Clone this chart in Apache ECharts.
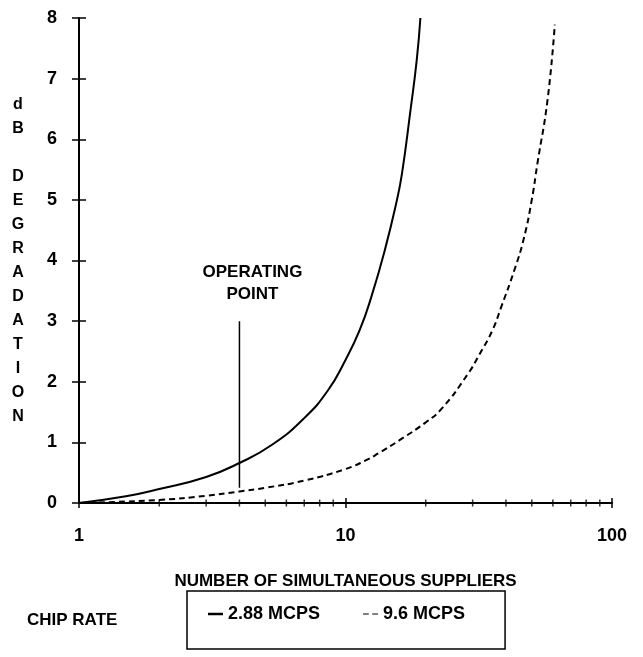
<!DOCTYPE html>
<html>
<head>
<meta charset="utf-8">
<script src="https://cdn.jsdelivr.net/npm/echarts@6/dist/echarts.min.js"></script>
<style>
html,body{margin:0;padding:0;background:#fff;}
#chart{width:643px;height:657px;}
</style>
</head>
<body>
<div id="chart"></div>
<script>
// ---- data ----
var solidName = '2.88 MCPS';
var dashName = '9.6 MCPS';
var solidX = [1, 1.5, 2, 3, 4, 5.3, 7, 8.6, 10, 11.3, 12.5, 14.1, 15.6, 16.3, 17.5, 18.5, 19.1];
var solidY = [0, 0.11, 0.23, 0.43, 0.66, 0.96, 1.4, 1.86, 2.36, 2.85, 3.4, 4.2, 5.0, 5.44, 6.45, 7.3, 8.0];
var dashX = [1, 2, 3, 4, 5, 7, 10, 12, 13.3, 16, 20, 23, 28.7, 32, 35.6, 38.3, 43, 46.6, 50, 52.5, 57.3, 61];
var dashY = [0, 0.05, 0.12, 0.19, 0.25, 0.37, 0.56, 0.71, 0.82, 1.04, 1.33, 1.56, 2.12, 2.47, 2.85, 3.22, 3.84, 4.35, 5.0, 5.6, 6.65, 7.89];
var operatingX = [4, 4];
var operatingY = [0.25, 3.0];
var operatingLabel = 'OPERATING\nPOINT';
var minorTickValues = [2, 3, 4, 5, 6, 7, 8, 9, 20, 30, 40, 50, 60, 70, 80, 90];
var yTicks = [0, 1, 2, 3, 4, 5, 6, 7, 8];
var xTickLabels = ['1', '10', '100'];

function pairs(xs, ys) { return xs.map(function (x, i) { return [x, ys[i]]; }); }

var FONT = "'Liberation Sans', 'DejaVu Sans', sans-serif";
var chart = echarts.init(document.getElementById('chart'), null, { renderer: 'canvas' });

var option = {
  backgroundColor: '#ffffff',
  animation: false,
  textStyle: { fontFamily: FONT, color: '#000', fontWeight: 'bold' },
  grid: { left: 79, right: 31, top: 18, bottom: 154, containLabel: false },
  xAxis: [{
    type: 'log', logBase: 10, min: 1, max: 100,
    name: 'NUMBER OF SIMULTANEOUS SUPPLIERS',
    nameLocation: 'middle', nameGap: 70,
    nameTextStyle: { fontFamily: FONT, fontSize: 17, fontWeight: 'bold', color: '#000' },
    axisLine: { show: true, lineStyle: { color: '#000', width: 2 } },
    axisTick: { show: true, inside: false, length: 5, lineStyle: { color: '#000', width: 1.5 } },
    axisLabel: { show: true, margin: 24, fontFamily: FONT, fontSize: 18, fontWeight: 'bold', color: '#000',
      formatter: function (v) { var s = String(Math.round(v)); return xTickLabels.indexOf(s) >= 0 ? s : ''; } },
    splitLine: { show: false }, minorTick: { show: false }
  }, {
    type: 'log', logBase: 10, min: 1, max: 100, position: 'bottom', offset: 0,
    axisLine: { show: false },
    axisTick: { show: true, inside: true, length: 5, lineStyle: { color: '#000', width: 1.5 } },
    axisLabel: { show: false }, splitLine: { show: false }
  }],
  yAxis: [{
    type: 'value', min: 0, max: 8, interval: 1,
    name: 'd\nB\n\nD\nE\nG\nR\nA\nD\nA\nT\nI\nO\nN',
    nameLocation: 'middle', nameGap: 61, nameRotate: 0,
    nameTextStyle: { fontFamily: FONT, fontSize: 16, fontWeight: 'bold', color: '#000', lineHeight: 24, align: 'center', verticalAlign: 'middle' },
    axisLine: { show: true, lineStyle: { color: '#000', width: 2 } },
    axisTick: { show: true, inside: false, length: 7, lineStyle: { color: '#000', width: 1.5 } },
    axisLabel: { show: true, margin: 22, fontFamily: FONT, fontSize: 18, fontWeight: 'bold', color: '#000',
      formatter: function (v) { return yTicks.indexOf(v) >= 0 ? String(v) : ''; } },
    splitLine: { show: false }
  }, {
    type: 'value', min: 0, max: 8, interval: 1, position: 'left', offset: 0,
    axisLine: { show: false },
    axisTick: { show: true, inside: true, length: 7, lineStyle: { color: '#000', width: 1.5 } },
    axisLabel: { show: false }, splitLine: { show: false }
  }],
  legend: {
    left: 187, top: 591,
    orient: 'horizontal',
    padding: [14, 40, 26, 21],
    itemGap: 43,
    itemWidth: 15, itemHeight: 2.5,
    borderColor: '#000', borderWidth: 1.5, borderRadius: 0,
    textStyle: { fontFamily: FONT, fontSize: 18, fontWeight: 'bold', color: '#000' },
    data: [
      { name: solidName, icon: 'rect' },
      { name: dashName, icon: 'path://M0,0h5v1h-5zM8,0h5v1h-5z' }
    ]
  },
  graphic: [{
    type: 'text', left: 27, top: 612,
    style: { text: 'CHIP RATE', font: 'bold 17px ' + FONT, fill: '#000' }
  }],
  series: [{
    name: solidName, type: 'line', xAxisIndex: 0, yAxisIndex: 0,
    data: pairs(solidX, solidY), smooth: 0.5,
    showSymbol: false, symbol: 'none',
    lineStyle: { color: '#000', width: 2 }, itemStyle: { color: '#000' }
  }, {
    name: dashName, type: 'line', xAxisIndex: 0, yAxisIndex: 0,
    data: pairs(dashX, dashY), smooth: 0.5,
    showSymbol: false, symbol: 'none',
    lineStyle: { color: '#000', width: 2, type: [6, 4] }, itemStyle: { color: '#000' }
  }, {
    name: 'operating', type: 'line', xAxisIndex: 0, yAxisIndex: 0,
    data: pairs(operatingX, operatingY),
    symbol: 'none', showSymbol: false,
    lineStyle: { color: '#000', width: 1.5 },
    silent: true
  }, {
    name: 'operatingLabel', type: 'scatter', xAxisIndex: 0, yAxisIndex: 0,
    data: [[operatingX[1], operatingY[1]]],
    symbol: 'circle', symbolSize: 0, itemStyle: { color: '#000', opacity: 1 },
    label: { show: true, position: 'top', distance: 16, offset: [13, 0],
      formatter: operatingLabel, fontFamily: FONT, fontSize: 17, fontWeight: 'bold', color: '#000', opacity: 1, lineHeight: 22, align: 'center' },
    emphasis: { disabled: true },
    silent: true
  }, {
    name: 'minorTicks', type: 'scatter', xAxisIndex: 0, yAxisIndex: 0,
    data: minorTickValues.map(function (v) { return [v, 0]; }),
    symbol: 'rect', symbolSize: [1.5, 7],
    itemStyle: { color: '#000' }, silent: true, z: 3
  }]
};
chart.setOption(option);
</script>
</body>
</html>
